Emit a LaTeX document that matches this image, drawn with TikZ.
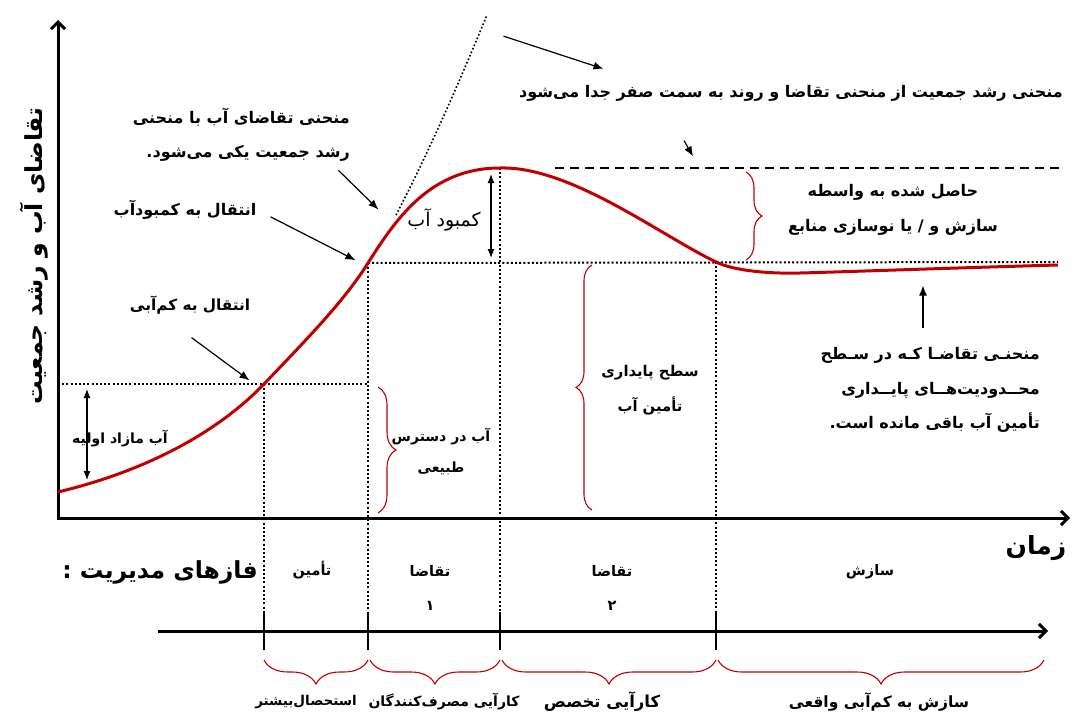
\documentclass[tikz,border=0pt]{standalone}
\usepackage{fontspec}
\usepackage{xcolor}
\usepackage{tikz}
\usetikzlibrary{arrows.meta,decorations.pathreplacing}
\newfontfamily\arabicfont[Script=Arabic]{DejaVu Sans}
\TeXXeTstate=1
\newcommand{\rtltext}[1]{\beginR #1\endR}
\definecolor{curvered}{RGB}{192,0,0}

\begin{document}
\begin{tikzpicture}[x=1pt, y=-1pt,
    lbl/.style={font=\arabicfont\bfseries\fontsize{14.5}{34}\selectfont, inner sep=0pt, align=center},
    note/.style={lbl, font=\arabicfont\bfseries\fontsize{16}{34.5}\selectfont},
    big/.style={font=\arabicfont\bfseries\fontsize{23.5}{28}\selectfont, inner sep=0pt},
    pointer/.style={line width=1.2pt, -{Latex[length=10pt,width=8pt]}},
    span/.style={line width=1.2pt, {Latex[length=9pt,width=7pt]}-{Latex[length=9pt,width=7pt]}},
    guide/.style={line width=2pt, dash pattern=on 2pt off 2.2pt},
    axis/.style={line width=3pt},
    demand/.style={line width=3pt, draw=curvered},
    rbrace/.style={draw=curvered, line width=1.1pt, decorate, decoration={brace, amplitude=#1}},
    rbrace/.default=16pt,
]
    \useasboundingbox (0,0) rectangle (1072,712);

    \coordinate (ytop) at (58,20);
    \coordinate (origin) at (58,518);
    \coordinate (xend) at (1070,518);
    \draw[axis, {Straight Barb[length=7pt,width=14pt]}-{Straight Barb[length=7pt,width=14pt]}, line join=miter] (ytop) -- (origin) -- (xend);

    \coordinate (start) at (58,492);
    \coordinate (lowpt) at (264,384);
    \coordinate (scarcept) at (368,263);
    \coordinate (peak) at (500,168);
    \coordinate (meetpt) at (716,262);
    \coordinate (flatpt) at (800,273);
    \coordinate (finish) at (1058,265);
    \coordinate (surplus) at (58,384);
    \coordinate (levelend) at (1058,262);
    \coordinate (capstart) at (555,168);
    \coordinate (capend) at (1062,168);
    \coordinate (popstart) at (396,215);
    \coordinate (popend) at (487,15);
    \coordinate (tltop) at (0,612);
    \coordinate (tlbot) at (0,650);
    \coordinate (tlstart) at (158,631);
    \coordinate (tlend) at (1048,631);

    \draw[guide] (surplus) -- (surplus -| scarcept);
    \draw[guide] (scarcept) -- (levelend);
    \foreach \p in {lowpt, scarcept, peak, meetpt}
        \draw[guide] (\p) -- (\p |- tltop);
    \draw[line width=1.5pt, dash pattern=on 9pt off 6pt] (capstart) -- (capend);
    \draw[line width=1.6pt, dash pattern=on 1.6pt off 2.2pt] (popstart) .. controls (430,150) and (460,80) .. (popend);

    \draw[demand] (start) .. controls (150,470) and (220,430) .. (lowpt)
        .. controls (308,338) and (345,300) .. (scarcept)
        .. controls (396,219) and (430,168) .. (peak)
        .. controls (570,166) and (660,235) .. (meetpt)
        .. controls (730,269) and (760,274) .. (flatpt)
        .. controls (840,272) and (950,268) .. (finish);

    \draw[axis, -{Straight Barb[length=7pt,width=14pt]}] (tlstart) -- (tlend);
    \foreach \p in {lowpt, scarcept, peak, meetpt}
        \draw[line width=2.5pt] (\p |- tltop) -- (\p |- tlbot);

    \draw[rbrace=18pt] (378,387) -- (378,513);
    \draw[rbrace=16pt] (592,510) -- (592,265);
    \draw[rbrace=16pt] (746,172) -- (746,260);
    \foreach \a/\b in {264/368, 370/500, 502/716, 718/1044}
        \draw[rbrace=24pt] (\b,660) -- (\a,660);

    \node[] at (500,35) (a1) {};
    \node[] at (607,70) (a2) {};
    \node[] at (682,137) (b1) {};
    \node[] at (695,160) (b2) {};
    \node[] at (335,167) (c1) {};
    \node[] at (382,213) (c2) {};
    \node[] at (267,215) (d1) {};
    \node[] at (359,262) (d2) {};
    \node[] at (188,335) (e1) {};
    \node[] at (253,383) (e2) {};
    \node[] at (923,332) (f1) {};
    \node[] at (923,282) (f2) {};
    \draw[pointer] (a1) -- (a2);
    \draw[pointer] (b1) -- (b2);
    \draw[pointer] (c1) -- (c2);
    \draw[pointer] (d1) -- (d2);
    \draw[pointer] (e1) -- (e2);
    \draw[pointer] (f1) -- (f2);

    \coordinate (g1) at (87,389);
    \coordinate (g2) at (87,480);
    \coordinate (h1) at (491,174);
    \coordinate (h2) at (491,258);
    \draw[span] (g1) -- (g2);
    \draw[span] (h1) -- (h2);

    \node[big, rotate=90] at (34,256) (ylabel) {\rtltext{تقاضای آب و رشد جمعیت}};
    \node[big, font=\arabicfont\bfseries\fontsize{25}{30}\selectfont] at (1036,548) (xlabel) {\rtltext{زمان}};
    \node[note] at (791,93) (divnote) {\rtltext{منحنی رشد جمعیت از منحنی تقاضا و روند به سمت صفر جدا می‌شود}};
    \node[note, align=right, anchor=east] at (350,135) (meetnote) {\rtltext{منحنی تقاضای آب با منحنی}\\\rtltext{رشد جمعیت یکی می‌شود.}};
    \node[note] at (185,210) (scarcenote) {\rtltext{انتقال به کمبودآب}};
    \node[note, font=\arabicfont\bfseries\fontsize{15.3}{18}\selectfont] at (190,305) (lownote) {\rtltext{انتقال به کم‌آبی}};
    \node[lbl, font=\arabicfont\bfseries\fontsize{14}{17}\selectfont] at (120,439) (surplusnote) {\rtltext{آب مازاد اولیه}};
    \node[lbl, font=\arabicfont\fontsize{19}{22}\selectfont] at (444,220) (gapnote) {\rtltext{کمبود آب}};
    \node[lbl, font=\arabicfont\bfseries\fontsize{14}{31}\selectfont] at (441,452) (natnote) {\rtltext{آب در دسترس}\\\rtltext{طبیعی}};
    \node[lbl, font=\arabicfont\bfseries\fontsize{14.8}{35}\selectfont] at (650,390) (sustnote) {\rtltext{سطح پایداری}\\\rtltext{تأمین آب}};
    \node[note] at (893,210) (adaptnote) {\rtltext{حاصل شده به واسطه}\\\rtltext{سازش و / یا نوسازی منابع}};
    \node[note, align=right, anchor=east] at (1040,390) (limitnote) {\rtltext{منحنـی تقاضـا کـه در سـطح}\\\rtltext{محــدودیت‌هــای پایــداری}\\\rtltext{تأمین آب باقی مانده است.}};

    \node[big] at (160,572) (phases) {\rtltext{فازهای مدیریت :}};
    \node[lbl] at (312,570) (ph1) {\rtltext{تأمین}};
    \node[lbl] at (430,588) (ph2) {\rtltext{تقاضا}\\\rtltext{۱}};
    \node[lbl] at (612,588) (ph3) {\rtltext{تقاضا}\\\rtltext{۲}};
    \node[lbl] at (870,572) (ph4) {\rtltext{سازش}};

    \node[lbl, font=\arabicfont\bfseries\fontsize{13.5}{16}\selectfont] at (306,702) (st1) {\rtltext{استحصال‌بیشتر}};
    \node[lbl, font=\arabicfont\bfseries\fontsize{14}{16}\selectfont] at (444,702) (st2) {\rtltext{کارآیی مصرف‌کنندگان}};
    \node[lbl, font=\arabicfont\bfseries\fontsize{16.5}{19}\selectfont] at (602,702) (st3) {\rtltext{کارآیی تخصص}};
    \node[lbl, font=\arabicfont\bfseries\fontsize{15.5}{18}\selectfont] at (879,702) (st4) {\rtltext{سازش به کم‌آبی واقعی}};
\end{tikzpicture}
\end{document}
